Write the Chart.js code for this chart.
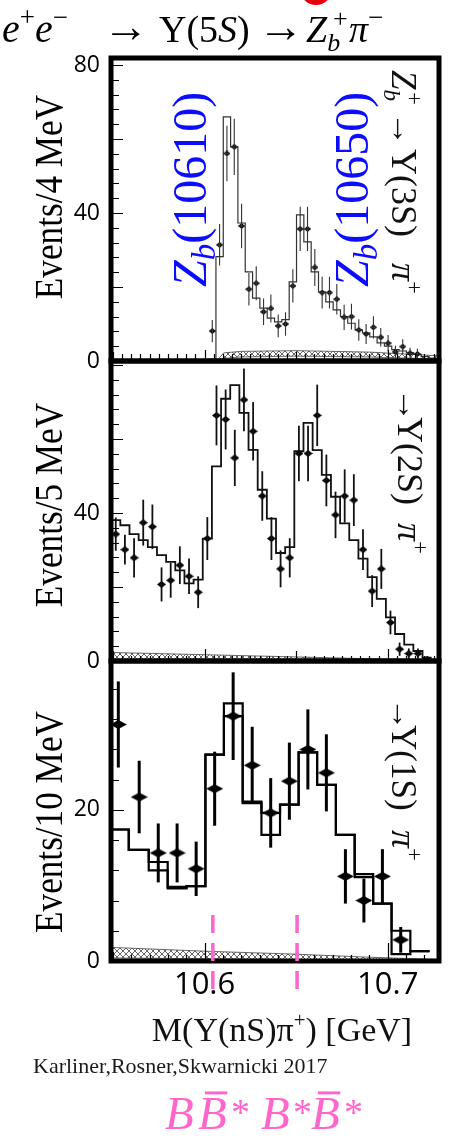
<!DOCTYPE html>
<html>
<head>
<meta charset="utf-8">
<script src="https://cdn.jsdelivr.net/npm/chart.js@4.4.1/dist/chart.umd.min.js"></script>
<style>
  html, body { margin: 0; padding: 0; background: #fff; }
  body { width: 449px; height: 1138px; position: relative; overflow: hidden; }
  .panel { position: absolute; left: 0; width: 449px; }
  #wrap3S { top: 0; height: 400px; }
  #wrap2S { top: 300px; height: 400px; }
  #wrap1S { top: 600px; height: 538px; }
</style>
</head>
<body>
<div class="panel" id="wrap3S"><canvas id="chart3S"></canvas></div>
<div class="panel" id="wrap2S"><canvas id="chart2S"></canvas></div>
<div class="panel" id="wrap1S"><canvas id="chart1S"></canvas></div>
<script>
// M(Y(nS) pi+) axis in GeV, shared by the three panels
const massMin = 10.5489;
const massMax = 10.728;
const massTickLabels = [10.6, 10.7];
const thresholdMasses = [10.6045, 10.6505];   // B Bbar*, B* Bbar*

// Y(3S) pi+ , 4 MeV bins
const mass3S = [10.6042, 10.6082, 10.6122, 10.6162, 10.6202, 10.6242, 10.6282, 10.6322, 10.6362, 10.6402,
  10.6442, 10.6482, 10.6522, 10.6562, 10.6602, 10.6642, 10.6682, 10.6722, 10.6762, 10.6802,
  10.6842, 10.6882, 10.6922, 10.6962, 10.7002, 10.7042, 10.7082, 10.7122, 10.7162, 10.7202, 10.7242];
const events3S = [8.1, 31.4, 56.1, 57.9, 36.5, 19.4, 21.0, 13.3, 14.2, 9.5,
  10.0, 20.3, 35.7, 35.7, 25.3, 18.5, 18.5, 16.7, 11.8, 12.0,
  8.4, 7.3, 9.1, 6.4, 4.8, 2.5, 3.9, 2.1, 1.9, null, null];
const errors3S = [3.0, 5.6, 7.5, 7.6, 6.0, 4.4, 4.6, 3.6, 3.8, 3.1,
  3.2, 4.5, 6.0, 6.0, 5.0, 4.3, 4.3, 4.1, 3.4, 3.5,
  2.9, 2.7, 3.0, 2.5, 2.2, 1.6, 2.0, 1.5, 1.4, null, null];
const fit3S = [0.5, 28.2, 66.0, 57.9, 37.3, 24.1, 17.0, 14.3, 11.6, 10.6,
  11.2, 21.4, 39.5, 32.2, 24.1, 18.6, 16.0, 13.8, 12.0, 10.2,
  8.4, 7.6, 6.5, 4.9, 4.0, 3.1, 2.7, 2.2, 1.8, 1.2, 0.8];
const bgMass3S = [10.6065, 10.6105, 10.62, 10.65, 10.69, 10.728];
const bgHigh3S = [0, 2.2, 2.6, 2.8, 2.4, 1.4];
const bgLow3S = [0, 0.7, 1.1, 1.3, 1.1, 0.5];
const yTicks3S = [0, 40, 80];
const yMax3S = 81.9;

// Y(2S) pi+ , 5 MeV bins
const mass2S = [10.5515, 10.5565, 10.5615, 10.5665, 10.5715, 10.5765, 10.5815, 10.5865, 10.5915, 10.5965,
  10.6015, 10.6065, 10.6115, 10.6165, 10.6215, 10.6265, 10.6315, 10.6365, 10.6415, 10.6465,
  10.6515, 10.6565, 10.6615, 10.6665, 10.6715, 10.6765, 10.6815, 10.6865, 10.6915, 10.6965,
  10.7015, 10.7065, 10.7115, 10.7165, 10.7215];
const events2S = [34.3, 30.1, 27.9, 37.4, 36.3, 20.7, 21.8, 25.9, 22.9, 18.6,
  33.1, 66.4, 65.3, 54.9, 70.6, 62.1, 44.6, 33.1, 24.9, 27.9,
  56.1, 56.1, 66.4, 48.8, 39.5, 44.6, 43.5, 30.1, 18.9, 24.9,
  10.4, 3.2, 2.0, 2.0, 0.5];
const errors2S = [4.5, 4.0, 5.3, 6.2, 6.0, 4.6, 4.7, 5.1, 4.8, 4.3,
  5.8, 8.1, 8.1, 7.6, 8.5, 7.9, 6.7, 5.8, 5.0, 5.3,
  7.5, 7.5, 8.3, 7.0, 6.3, 7.2, 7.0, 5.5, 4.3, 5.4,
  3.2, 1.8, 1.4, 1.4, 0.7];
const fit2S = [38.1, 36.7, 34.3, 32.7, 30.8, 28.6, 26.8, 24.5, 21.0, 22.0,
  33.1, 52.6, 70.9, 74.6, 67.1, 57.1, 46.3, 38.5, 29.2, 30.8,
  56.7, 64.4, 57.0, 50.3, 44.4, 37.2, 32.7, 27.7, 22.7, 16.8,
  11.8, 7.3, 4.4, 2.7, 0.9];
const bgMass2S = [10.549, 10.60, 10.65, 10.69, 10.728];
const bgHigh2S = [2.3, 1.7, 1.1, 0.6, 0.2];
const bgLow2S = [0.4, 0.3, 0.15, 0.05, 0];
const yTicks2S = [0, 40];
const yMax2S = 81.1;

// Y(1S) pi+ , 10 MeV bins
const mass1S = [10.5529, 10.5643, 10.5747, 10.5850, 10.5954, 10.6055, 10.6156, 10.6260, 10.6361,
  10.6463, 10.6564, 10.6665, 10.6769, 10.6870, 10.6971, 10.7071, 10.7176];
const events1S = [31.3, 21.7, 14.3, 14.3, 12.2, 22.8, 32.4, 25.9, 19.6,
  23.8, 28.0, 24.9, 11.2, 8.0, 11.2, 2.8, null];
const errors1S = [5.7, 4.8, 3.9, 3.9, 3.6, 4.9, 5.8, 5.1, 4.6,
  5.1, 5.3, 5.1, 3.6, 2.9, 3.6, 1.7, null];
const fitA1S = [17.4, 14.7, 12.0, 9.6, 9.9, 27.3, 34.1, 21.1, 16.7,
  20.7, 27.6, 23.3, 16.7, 11.5, 7.6, 4.0, 1.3];
const fitB1S = [17.4, 14.7, 13.1, 9.8, 9.9, 27.3, 32.4, 20.9, 19.6,
  20.7, 27.6, 23.3, 16.7, 11.1, 7.6, 0.9, 1.3];
const bgMass1S = [10.549, 10.60, 10.65, 10.69, 10.728];
const bgHigh1S = [1.8, 1.3, 0.9, 0.5, 0.2];
const bgLow1S = [0.4, 0.3, 0.2, 0.1, 0];
const yTicks1S = [0, 20];
const yMax1S = 39.7;

// ---------- helpers ----------
const serif = '"Liberation Serif", "DejaVu Serif", serif';
const sans = '"Open Sans", "Liberation Sans", sans-serif';
const ink = '#111';
const blue = '#0c0cff';
const pink = '#ff66cc';

// one piece of a label: size, style, colour, baseline shift;
// extra: { at: fixed start along the baseline, stay: do not advance, bar: overbar }
function run(t, size, style, color, dy, extra) {
  return Object.assign({ t, size, font: (style || 'normal') + ' ' + size + 'px ' + serif, color: color || '#000', dy: dy || 0 }, extra || {});
}

// draws a row of text pieces (sub/superscripts, overbars) along a rotated baseline
function richText(ctx, x, y, angle, runs, opts) {
  opts = opts || {};
  ctx.save();
  ctx.translate(x, y);
  ctx.rotate(angle);
  if (opts.sx) ctx.scale(opts.sx, 1);
  ctx.textBaseline = 'alphabetic';
  ctx.textAlign = 'left';
  let total = 0;
  runs.forEach(r => {
    ctx.font = r.font;
    r.w = ctx.measureText(r.t).width;
    if (!r.stay) total += r.w;
  });
  let cx = opts.align === 'center' ? -total / 2 : 0;
  runs.forEach(r => {
    if (r.at != null) cx = r.at;
    ctx.font = r.font;
    ctx.fillStyle = r.color;
    ctx.fillText(r.t, cx, r.dy);
    if (r.bar) ctx.fillRect(cx + r.w * 0.24, -r.size * 0.8, r.w * 0.78, 3);
    if (!r.stay) cx += r.w;
  });
  ctx.restore();
}

function points(xs, ys) {
  const out = [];
  xs.forEach((x, i) => { if (ys[i] != null) out.push({ x, y: ys[i] }); });
  return out;
}

// histogram outline: flat top across each bin, edges halfway between centres
function steps(centres, values) {
  const out = [];
  const n = centres.length;
  centres.forEach((c, i) => {
    const lo = i === 0 ? c - (centres[1] - c) / 2 : (centres[i - 1] + c) / 2;
    const hi = i === n - 1 ? c + (c - centres[i - 1]) / 2 : (c + centres[i + 1]) / 2;
    out.push({ x: lo, y: values[i] }, { x: hi, y: values[i] });
  });
  return out;
}

function diamond(w, h) {
  const c = document.createElement('canvas');
  c.width = w; c.height = h;
  const g = c.getContext('2d');
  g.fillStyle = '#000';
  g.beginPath();
  g.moveTo(w / 2, 0); g.lineTo(w, h / 2); g.lineTo(w / 2, h); g.lineTo(0, h / 2);
  g.closePath(); g.fill();
  return c;
}

function hatchPattern() {
  const c = document.createElement('canvas');
  c.width = 6; c.height = 6;
  const g = c.getContext('2d');
  g.strokeStyle = '#555';
  g.lineWidth = 0.9;
  g.beginPath();
  g.moveTo(0, 6); g.lineTo(6, 0);
  g.moveTo(0, 0); g.lineTo(6, 6);
  g.stroke();
  return g.createPattern(c, 'repeat');
}
const hatch = hatchPattern();

// ---------- per-panel settings ----------
const panels = {
  chart3S: {
    offset: 0, padTop: 58, padBottom: 39, showX: false,
    mass: mass3S, events: events3S, errors: errors3S, fits: [fit3S],
    bgMass: bgMass3S, bgHigh: bgHigh3S, bgLow: bgLow3S, yTicks: yTicks3S, yMax: yMax3S,
    marker: diamond(7, 6), fitColor: '#333', fitWidth: 1.2, barColor: '#333', barWidth: 1.1, capHalf: 3,
    yStep: 4, yMajor: 20, yMinorLen: 6, yMajorLen: 10, xMinorLen: 5, xMidLen: 7, xMajorLen: 9, xStepK: 1,
    title: 'Events/4 MeV', titleY: 197
  },
  chart2S: {
    offset: 300, padTop: 61, padBottom: 39, showX: false,
    mass: mass2S, events: events2S, errors: errors2S, fits: [fit2S],
    bgMass: bgMass2S, bgHigh: bgHigh2S, bgLow: bgLow2S, yTicks: yTicks2S, yMax: yMax2S,
    marker: diamond(9, 7), fitColor: '#111', fitWidth: 1.8, barColor: '#111', barWidth: 1.8, capHalf: 0,
    yStep: 4, yMajor: 20, yMinorLen: 6, yMajorLen: 10, xMinorLen: 3, xMidLen: 8, xMajorLen: 10, xStepK: 1,
    title: 'Events/5 MeV', titleY: 505
  },
  chart1S: {
    offset: 600, padTop: 61, padBottom: 77, showX: true,
    mass: mass1S, events: events1S, errors: errors1S, fits: [fitA1S, fitB1S],
    bgMass: bgMass1S, bgHigh: bgHigh1S, bgLow: bgLow1S, yTicks: yTicks1S, yMax: yMax1S,
    marker: diamond(17, 9), fitColor: '#000', fitWidth: 2.2, barColor: '#000', barWidth: 3, capHalf: 0,
    yStep: 4, yMajor: 20, yMinorLen: 6, yMajorLen: 11, xMinorLen: 4, xMidLen: 7, xMajorLen: 16, xStepK: 2,
    title: 'Events/10 MeV', titleY: 822
  }
};

// text that sits around and inside each panel, in page coordinates
const panelText = {
  chart3S(ctx) {
    // decay chain heading
    richText(ctx, 2, 42, 0, [
      run('e', 40, 'italic'), run('+', 27, 'normal', '#000', -16), run('e', 40, 'italic'), run('\u2212', 27, 'normal', '#000', -16),
      run('\u2192', 46, 'normal', '#000', 0, { at: 101 }),
      run('\u03a5(5', 38, 'normal', '#000', 0, { at: 157 }), run('S', 38, 'italic'), run(')', 38),
      run('\u2192', 46, 'normal', '#000', 0, { at: 256 }),
      run('Z', 38, 'italic', '#000', 0, { at: 304 }), run('b', 26, 'italic', '#000', 9, { stay: true }), run('+', 26, 'normal', '#000', -15, { at: 331 }),
      run('\u03c0', 38, 'italic', '#000', 0, { at: 347 }), run('\u2212', 27, 'normal', '#000', -16)
    ]);
    ctx.save();
    ctx.fillStyle = '#e8000b';
    ctx.beginPath(); ctx.ellipse(316, -9, 15, 14, 0, 0, Math.PI * 2); ctx.fill();
    ctx.restore();
    richText(ctx, 206, 287, -Math.PI / 2, [run('Z', 48, 'italic', blue), run('b', 33, 'italic', blue, 9), run('(10610)', 48, 'normal', blue)]);
    richText(ctx, 368, 287, -Math.PI / 2, [run('Z', 48, 'italic', blue), run('b', 33, 'italic', blue, 9), run('(10650)', 48, 'normal', blue)]);
    richText(ctx, 392, 68, Math.PI / 2, [
      run('Z', 35, 'italic', ink, 0, { at: 2 }), run('b', 23, 'italic', ink, 8, { stay: true }), run('+', 23, 'normal', ink, -15, { at: 24 }),
      run('\u2192', 34, 'normal', ink, 0, { at: 44 }),
      run('\u03a5(3S)', 36, 'normal', ink, 0, { at: 81 }),
      run('\u03c0', 36, 'italic', ink, 0, { at: 195 }), run('+', 23, 'normal', ink, -15)
    ]);
  },
  chart2S(ctx) {
    richText(ctx, 398, 388, Math.PI / 2, [
      run('\u2192', 34, 'normal', ink, 0, { at: 0 }),
      run('\u03a5(2S)', 36, 'normal', ink, 0, { at: 29 }),
      run('\u03c0', 36, 'italic', ink, 0, { at: 135 }), run('+', 23, 'normal', ink, -15)
    ]);
  },
  chart1S(ctx) {
    richText(ctx, 392, 698, Math.PI / 2, [
      run('\u2192', 32, 'normal', ink, 0, { at: 0 }),
      run('\u03a5(1S)', 35, 'normal', ink, 0, { at: 27 }),
      run('\u03c0', 36, 'italic', ink, 0, { at: 132 }), run('+', 23, 'normal', ink, -15)
    ]);
    richText(ctx, 282, 1041, 0, [run('M(\u03a5(nS)\u03c0', 34, 'normal', ink), run('+', 21, 'normal', ink, -14), run(') [GeV]', 34, 'normal', ink)], { align: 'center' });
    richText(ctx, 33, 1073, 0, [run('Karliner,Rosner,Skwarnicki 2017', 22, 'normal', '#1a1a1a')]);
    richText(ctx, 165, 1129, 0, [
      run('B', 47, 'italic', pink, 0, { at: 0 }),
      run('B', 47, 'italic', pink, 0, { at: 33, bar: true }), run('*', 38, 'normal', pink, -4, { at: 66 }),
      run('B', 47, 'italic', pink, 0, { at: 96 }), run('*', 38, 'normal', pink, -4, { at: 128 }),
      run('B', 47, 'italic', pink, 0, { at: 146, bar: true }), run('*', 38, 'normal', pink, -4, { at: 179 })
    ]);
  }
};

const decor = {
  id: 'decor',
  afterDatasetsDraw(chart) {
    const cfg = panels[chart.canvas.id];
    const ctx = chart.ctx;
    const xs = chart.scales.x, ys = chart.scales.y;
    const a = chart.chartArea;

    // error bars
    ctx.save();
    ctx.beginPath();
    ctx.rect(a.left, a.top, a.right - a.left, a.bottom - a.top);
    ctx.clip();
    ctx.strokeStyle = cfg.barColor;
    ctx.lineWidth = cfg.barWidth;
    cfg.mass.forEach((m, i) => {
      const v = cfg.events[i];
      if (v == null) return;
      const px = xs.getPixelForValue(m);
      const py = ys.getPixelForValue(v);
      ctx.beginPath();
      ctx.moveTo(px, ys.getPixelForValue(v - cfg.errors[i]));
      ctx.lineTo(px, ys.getPixelForValue(v + cfg.errors[i]));
      if (cfg.capHalf) { ctx.moveTo(px - cfg.capHalf, py); ctx.lineTo(px + cfg.capHalf, py); }
      ctx.stroke();
    });

    // inner tick marks
    ctx.strokeStyle = '#000';
    ctx.lineWidth = 1.2;
    ctx.beginPath();
    for (let k = 0; k * cfg.yStep <= cfg.yMax; k++) {
      const v = k * cfg.yStep;
      const py = Math.round(ys.getPixelForValue(v)) + 0.5;
      const len = v % cfg.yMajor === 0 ? cfg.yMajorLen : cfg.yMinorLen;
      ctx.moveTo(a.left, py); ctx.lineTo(a.left + 2 + len, py);
    }
    for (let k = Math.ceil(massMin / 0.005); k * 0.005 <= massMax; k++) {
      if (k % cfg.xStepK !== 0) continue;
      const px = Math.round(xs.getPixelForValue(k * 0.005)) + 0.5;
      const len = k % 20 === 0 ? cfg.xMajorLen : (k % 10 === 0 ? cfg.xMidLen : cfg.xMinorLen);
      ctx.moveTo(px, a.bottom); ctx.lineTo(px, a.bottom - 2 - len);
    }
    ctx.stroke();
    ctx.restore();

    // frame
    ctx.save();
    ctx.strokeStyle = '#000';
    ctx.lineWidth = 5;
    ctx.strokeRect(a.left, a.top, a.right - a.left, a.bottom - a.top);
    ctx.restore();

    // B B* thresholds
    if (cfg.showX) {
      ctx.save();
      ctx.strokeStyle = pink;
      ctx.lineWidth = 3.5;
      ctx.setLineDash([18, 10]);
      thresholdMasses.forEach(m => {
        const px = xs.getPixelForValue(m);
        ctx.beginPath();
        ctx.moveTo(px, 915 - cfg.offset);
        ctx.lineTo(px, 990 - cfg.offset);
        ctx.stroke();
      });
      ctx.restore();
    }

    // axis title and labels
    ctx.save();
    ctx.translate(0, -cfg.offset);
    richText(ctx, 62, cfg.titleY, -Math.PI / 2, [run(cfg.title, 40, 'normal', '#000')], { align: 'center', sx: 0.88 });
    panelText[chart.canvas.id](ctx);
    ctx.restore();
  }
};

function panelChart(id) {
  const cfg = panels[id];
  const datasets = [
    { data: points(cfg.bgMass, cfg.bgLow), borderColor: '#444', borderWidth: 0.8, pointRadius: 0, fill: false, order: 3 },
    { data: points(cfg.bgMass, cfg.bgHigh), borderColor: '#444', borderWidth: 0.8, pointRadius: 0, fill: '-1', backgroundColor: hatch, order: 2 }
  ];
  cfg.fits.forEach(f => {
    datasets.push({ data: steps(cfg.mass, f), borderColor: cfg.fitColor, borderWidth: cfg.fitWidth, pointRadius: 0, fill: false, order: 1 });
  });
  datasets.push({ data: points(cfg.mass, cfg.events), showLine: false, pointStyle: cfg.marker, pointRadius: 3, order: 0 });

  return new Chart(document.getElementById(id), {
    type: 'line',
    data: { datasets },
    options: {
      responsive: true,
      maintainAspectRatio: false,
      animation: false,
      devicePixelRatio: 1,
      layout: { padding: { left: 0, right: 10, top: cfg.padTop, bottom: cfg.padBottom } },
      plugins: { legend: { display: false }, tooltip: { enabled: false } },
      scales: {
        x: {
          type: 'linear', min: massMin, max: massMax, display: cfg.showX,
          grid: { display: false, drawTicks: false }, border: { display: false },
          afterBuildTicks: s => { s.ticks = massTickLabels.map(v => ({ value: v })); },
          afterFit: s => { if (cfg.showX) s.height = 100; },
          ticks: { padding: 6, color: '#000', font: { family: sans, size: 31 }, maxRotation: 0, autoSkip: false, callback: v => v.toFixed(1) }
        },
        y: {
          type: 'linear', min: 0, max: cfg.yMax,
          grid: { display: false, drawTicks: false }, border: { display: false },
          afterBuildTicks: s => { s.ticks = cfg.yTicks.map(v => ({ value: v })); },
          afterFit: s => { s.width = 111; },
          ticks: { padding: 11, color: '#000', font: { family: sans, size: 23 } }
        }
      }
    },
    plugins: [decor]
  });
}

panelChart('chart3S');
panelChart('chart2S');
panelChart('chart1S');
</script>
</body>
</html>
